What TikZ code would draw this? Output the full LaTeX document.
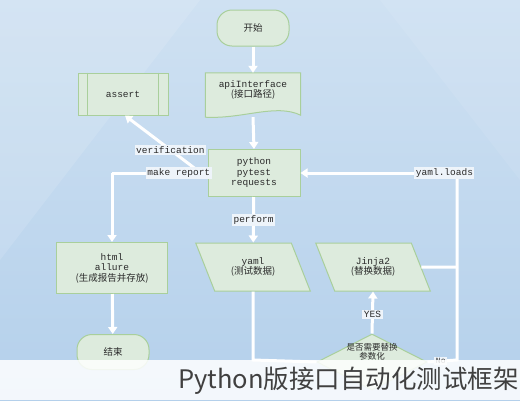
\documentclass[tikz,border=0pt]{standalone}
\usepackage{fontspec}
\setmainfont{Liberation Mono}
\newfontfamily\cjk{Noto Sans CJK SC}
\usetikzlibrary{shapes.geometric,arrows.meta,calc}
\definecolor{bgA}{HTML}{CFE1F2}
\definecolor{bgB}{HTML}{B4D0EB}
\definecolor{nfill}{HTML}{DDEBDD}
\definecolor{nline}{HTML}{A9CF9B}
\definecolor{txt}{HTML}{2A2A2A}
\definecolor{lblbg}{HTML}{EEF4FA}
\tikzset{
  base/.style={fill=nfill,draw=nline,line width=1pt,text=txt,font=\fontsize{9.5}{10.5}\selectfont,align=center},
  term/.style={base,rounded corners=15pt,minimum width=72pt,minimum height=36pt},
  procbox/.style={base,rectangle,minimum width=92pt,minimum height=47pt},
  iobox/.style={base,trapezium,trapezium left angle=113,trapezium right angle=67,minimum width=115pt,minimum height=48pt,trapezium stretches=true,inner xsep=0pt},
  decis/.style={base,diamond,minimum width=110pt,minimum height=56pt,inner sep=0pt},
  arr/.style={draw=white,line width=3pt,-{Triangle[width=9pt,length=7pt]}},
  conn/.style={draw=white,line width=3pt},
  lbl/.style={fill=lblbg,inner sep=1.5pt,text=txt,font=\fontsize{9.5}{10.5}\selectfont}
}
\begin{document}
\begin{tikzpicture}[x=1pt,y=-1pt]
\useasboundingbox (0,0) rectangle (520,400);
\shade[top color=bgA,bottom color=bgB] (0,0) rectangle (520,400);
\fill[white,opacity=0.12] (0,0) -- (200,0) -- (0,260) -- cycle;
\fill[white,opacity=0.08] (380,0) -- (520,0) -- (520,180) -- cycle;

% nodes
\node[term] (start) at (253,28) {\cjk 开始};
\node[minimum width=95pt,minimum height=40pt,inner sep=0pt] (api) at (253,93) {};
\fill[nfill,draw=nline,line width=1pt] (api.north west) -- (api.north east) -- ([yshift=-2pt]api.south east)
  .. controls ($(api.south east)+(-25,-10)$) and ($(api.south)+(-10,6)$) .. ([yshift=-4pt]api.south west) -- cycle;
\node[text=txt,font=\fontsize{9.5}{10.5}\selectfont,align=center] (apitext) at (253,90) {apiInterface\\{\cjk (接口路径)}};
\node[procbox,minimum width=90pt,minimum height=42pt] (assert) at (123,94) {assert};
\draw[nline,line width=1pt] ([xshift=10pt]assert.north west) -- ([xshift=10pt]assert.south west)
  ([xshift=-10pt]assert.north east) -- ([xshift=-10pt]assert.south east);
\node[procbox] (py) at (254,173) {python\\pytest\\requests};
\node[procbox,minimum width=111pt,minimum height=51pt] (html) at (112,268) {html\\allure\\{\cjk (生成报告并存放)}};
\node[iobox] (yaml) at (253,267) {yaml\\{\cjk (测试数据)}};
\node[iobox] (jinja) at (373,267) {Jinja2\\{\cjk (替换数据)}};
\node[term,minimum width=72pt,minimum height=35pt] (end) at (113,352) {\cjk 结束};
\node[decis] (dec) at (372,362) {};
\node[text=txt,font=\cjk\fontsize{8.5}{9.5}\selectfont,align=center,inner sep=0pt] (dectext) at (372,352) {是否需要替换\\参数化};

\coordinate (rc) at (457,173);
\coordinate (rb) at (457,360);
\coordinate (lc) at (112,173);
\coordinate (yb) at (253,360);

% connectors
\draw[arr] (start) -- (api.north);
\draw[arr] ([yshift=-4pt]api.south) -- (py.north);
\draw[arr] ([yshift=-5pt]py.west) -- node[lbl,pos=0.45] {verification} ([xshift=2pt]assert.south);
\draw[conn] (py.west) -- node[lbl,pos=0.3] {make report} (lc);
\draw[arr] (lc) -- (html.north);
\draw[arr] (html) -- (end);
\draw[arr] (py) -- node[lbl,pos=0.5] {perform} (yaml);
\draw[conn] (yaml.south) -- (yb) -- (dec.west);
\draw[arr] (dec.north) -- node[lbl,pos=0.45] {YES} (jinja.south);
\draw[conn] (dec.east) -- node[lbl,pos=0.45,font=\fontsize{8}{9}\selectfont] {No} (rb) -- (rc);
\draw[arr] (rc) -- node[lbl,pos=0.08] {yaml.loads} (py.east);
\draw[conn] (jinja.east) -- (457,267);

% caption band
\fill[white,opacity=0.85] (0,360) rectangle (520,400);
\node[anchor=east,text=black!75,font=\cjk\fontsize{25.5}{30}\selectfont,inner sep=0pt] (cap) at (519,381) {Python版接口自动化测试框架};
\end{tikzpicture}
\end{document}
